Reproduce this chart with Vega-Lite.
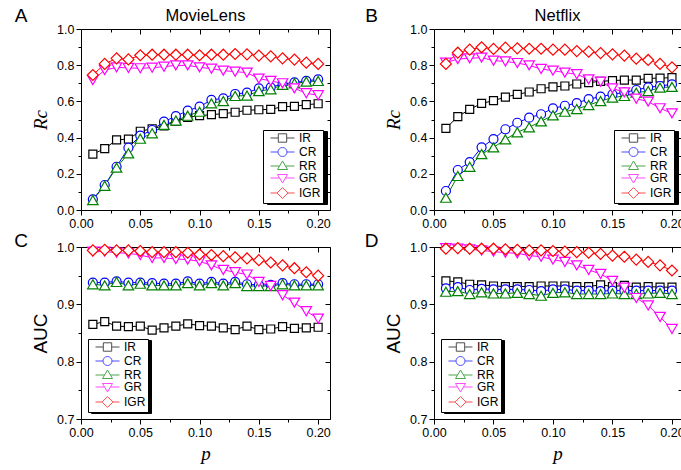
{
"$schema": "https://vega.github.io/schema/vega-lite/v6.json",
"padding": {"left": 13, "top": 6, "right": 0, "bottom": 0},
"datasets": {
"A": [
{"p":0.01,"m":"IR","v":0.309},{"p":0.02,"m":"IR","v":0.339},{"p":0.03,"m":"IR","v":0.387},{"p":0.04,"m":"IR","v":0.392},{"p":0.05,"m":"IR","v":0.435},{"p":0.06,"m":"IR","v":0.449},{"p":0.07,"m":"IR","v":0.465},{"p":0.08,"m":"IR","v":0.49},{"p":0.09,"m":"IR","v":0.512},{"p":0.10,"m":"IR","v":0.521},{"p":0.11,"m":"IR","v":0.527},{"p":0.12,"m":"IR","v":0.532},{"p":0.13,"m":"IR","v":0.540},{"p":0.14,"m":"IR","v":0.551},{"p":0.15,"m":"IR","v":0.554},{"p":0.16,"m":"IR","v":0.556},{"p":0.17,"m":"IR","v":0.571},{"p":0.18,"m":"IR","v":0.573},{"p":0.19,"m":"IR","v":0.582},{"p":0.20,"m":"IR","v":0.587},
{"p":0.01,"m":"CR","v":0.059},{"p":0.02,"m":"CR","v":0.138},{"p":0.03,"m":"CR","v":0.239},{"p":0.04,"m":"CR","v":0.344},{"p":0.05,"m":"CR","v":0.411},{"p":0.06,"m":"CR","v":0.442},{"p":0.07,"m":"CR","v":0.488},{"p":0.08,"m":"CR","v":0.519},{"p":0.09,"m":"CR","v":0.549},{"p":0.10,"m":"CR","v":0.571},{"p":0.11,"m":"CR","v":0.608},{"p":0.12,"m":"CR","v":0.617},{"p":0.13,"m":"CR","v":0.641},{"p":0.14,"m":"CR","v":0.648},{"p":0.15,"m":"CR","v":0.672},{"p":0.16,"m":"CR","v":0.678},{"p":0.17,"m":"CR","v":0.696},{"p":0.18,"m":"CR","v":0.705},{"p":0.19,"m":"CR","v":0.713},{"p":0.20,"m":"CR","v":0.722},
{"p":0.01,"m":"RR","v":0.055},{"p":0.02,"m":"RR","v":0.134},{"p":0.03,"m":"RR","v":0.234},{"p":0.04,"m":"RR","v":0.313},{"p":0.05,"m":"RR","v":0.394},{"p":0.06,"m":"RR","v":0.424},{"p":0.07,"m":"RR","v":0.470},{"p":0.08,"m":"RR","v":0.494},{"p":0.09,"m":"RR","v":0.521},{"p":0.10,"m":"RR","v":0.543},{"p":0.11,"m":"RR","v":0.589},{"p":0.12,"m":"RR","v":0.602},{"p":0.13,"m":"RR","v":0.630},{"p":0.14,"m":"RR","v":0.632},{"p":0.15,"m":"RR","v":0.657},{"p":0.16,"m":"RR","v":0.667},{"p":0.17,"m":"RR","v":0.691},{"p":0.18,"m":"RR","v":0.700},{"p":0.19,"m":"RR","v":0.709},{"p":0.20,"m":"RR","v":0.713},
{"p":0.01,"m":"GR","v":0.718},{"p":0.02,"m":"GR","v":0.773},{"p":0.03,"m":"GR","v":0.788},{"p":0.04,"m":"GR","v":0.785},{"p":0.05,"m":"GR","v":0.783},{"p":0.06,"m":"GR","v":0.786},{"p":0.07,"m":"GR","v":0.792},{"p":0.08,"m":"GR","v":0.799},{"p":0.09,"m":"GR","v":0.799},{"p":0.10,"m":"GR","v":0.788},{"p":0.11,"m":"GR","v":0.781},{"p":0.12,"m":"GR","v":0.770},{"p":0.13,"m":"GR","v":0.764},{"p":0.14,"m":"GR","v":0.759},{"p":0.15,"m":"GR","v":0.726},{"p":0.16,"m":"GR","v":0.713},{"p":0.17,"m":"GR","v":0.700},{"p":0.18,"m":"GR","v":0.672},{"p":0.19,"m":"GR","v":0.645},{"p":0.20,"m":"GR","v":0.634},
{"p":0.01,"m":"IGR","v":0.746},{"p":0.02,"m":"IGR","v":0.807},{"p":0.03,"m":"IGR","v":0.838},{"p":0.04,"m":"IGR","v":0.832},{"p":0.05,"m":"IGR","v":0.855},{"p":0.06,"m":"IGR","v":0.858},{"p":0.07,"m":"IGR","v":0.858},{"p":0.08,"m":"IGR","v":0.858},{"p":0.09,"m":"IGR","v":0.858},{"p":0.10,"m":"IGR","v":0.855},{"p":0.11,"m":"IGR","v":0.858},{"p":0.12,"m":"IGR","v":0.858},{"p":0.13,"m":"IGR","v":0.862},{"p":0.14,"m":"IGR","v":0.860},{"p":0.15,"m":"IGR","v":0.853},{"p":0.16,"m":"IGR","v":0.849},{"p":0.17,"m":"IGR","v":0.838},{"p":0.18,"m":"IGR","v":0.831},{"p":0.19,"m":"IGR","v":0.814},{"p":0.20,"m":"IGR","v":0.807}
],
"B": [
{"p":0.01,"m":"IR","v":0.451},{"p":0.02,"m":"IR","v":0.516},{"p":0.03,"m":"IR","v":0.556},{"p":0.04,"m":"IR","v":0.589},{"p":0.05,"m":"IR","v":0.604},{"p":0.06,"m":"IR","v":0.624},{"p":0.07,"m":"IR","v":0.639},{"p":0.08,"m":"IR","v":0.652},{"p":0.09,"m":"IR","v":0.670},{"p":0.10,"m":"IR","v":0.680},{"p":0.11,"m":"IR","v":0.685},{"p":0.12,"m":"IR","v":0.696},{"p":0.13,"m":"IR","v":0.704},{"p":0.14,"m":"IR","v":0.711},{"p":0.15,"m":"IR","v":0.715},{"p":0.16,"m":"IR","v":0.718},{"p":0.17,"m":"IR","v":0.718},{"p":0.18,"m":"IR","v":0.727},{"p":0.19,"m":"IR","v":0.729},{"p":0.20,"m":"IR","v":0.731},
{"p":0.01,"m":"CR","v":0.105},{"p":0.02,"m":"CR","v":0.221},{"p":0.03,"m":"CR","v":0.265},{"p":0.04,"m":"CR","v":0.346},{"p":0.05,"m":"CR","v":0.392},{"p":0.06,"m":"CR","v":0.446},{"p":0.07,"m":"CR","v":0.482},{"p":0.08,"m":"CR","v":0.510},{"p":0.09,"m":"CR","v":0.529},{"p":0.10,"m":"CR","v":0.562},{"p":0.11,"m":"CR","v":0.576},{"p":0.12,"m":"CR","v":0.591},{"p":0.13,"m":"CR","v":0.613},{"p":0.14,"m":"CR","v":0.626},{"p":0.15,"m":"CR","v":0.639},{"p":0.16,"m":"CR","v":0.650},{"p":0.17,"m":"CR","v":0.663},{"p":0.18,"m":"CR","v":0.678},{"p":0.19,"m":"CR","v":0.685},{"p":0.20,"m":"CR","v":0.694},
{"p":0.01,"m":"RR","v":0.068},{"p":0.02,"m":"RR","v":0.188},{"p":0.03,"m":"RR","v":0.239},{"p":0.04,"m":"RR","v":0.309},{"p":0.05,"m":"RR","v":0.346},{"p":0.06,"m":"RR","v":0.390},{"p":0.07,"m":"RR","v":0.429},{"p":0.08,"m":"RR","v":0.457},{"p":0.09,"m":"RR","v":0.490},{"p":0.10,"m":"RR","v":0.523},{"p":0.11,"m":"RR","v":0.543},{"p":0.12,"m":"RR","v":0.558},{"p":0.13,"m":"RR","v":0.580},{"p":0.14,"m":"RR","v":0.602},{"p":0.15,"m":"RR","v":0.621},{"p":0.16,"m":"RR","v":0.630},{"p":0.17,"m":"RR","v":0.648},{"p":0.18,"m":"RR","v":0.657},{"p":0.19,"m":"RR","v":0.676},{"p":0.20,"m":"RR","v":0.680},
{"p":0.01,"m":"GR","v":0.814},{"p":0.02,"m":"GR","v":0.834},{"p":0.03,"m":"GR","v":0.838},{"p":0.04,"m":"GR","v":0.842},{"p":0.05,"m":"GR","v":0.825},{"p":0.06,"m":"GR","v":0.821},{"p":0.07,"m":"GR","v":0.812},{"p":0.08,"m":"GR","v":0.799},{"p":0.09,"m":"GR","v":0.779},{"p":0.10,"m":"GR","v":0.770},{"p":0.11,"m":"GR","v":0.759},{"p":0.12,"m":"GR","v":0.750},{"p":0.13,"m":"GR","v":0.722},{"p":0.14,"m":"GR","v":0.709},{"p":0.15,"m":"GR","v":0.672},{"p":0.16,"m":"GR","v":0.650},{"p":0.17,"m":"GR","v":0.615},{"p":0.18,"m":"GR","v":0.599},{"p":0.19,"m":"GR","v":0.562},{"p":0.20,"m":"GR","v":0.534},
{"p":0.01,"m":"IGR","v":0.807},{"p":0.02,"m":"IGR","v":0.869},{"p":0.03,"m":"IGR","v":0.886},{"p":0.04,"m":"IGR","v":0.899},{"p":0.05,"m":"IGR","v":0.890},{"p":0.06,"m":"IGR","v":0.897},{"p":0.07,"m":"IGR","v":0.893},{"p":0.08,"m":"IGR","v":0.891},{"p":0.09,"m":"IGR","v":0.891},{"p":0.10,"m":"IGR","v":0.886},{"p":0.11,"m":"IGR","v":0.886},{"p":0.12,"m":"IGR","v":0.878},{"p":0.13,"m":"IGR","v":0.875},{"p":0.14,"m":"IGR","v":0.867},{"p":0.15,"m":"IGR","v":0.860},{"p":0.16,"m":"IGR","v":0.853},{"p":0.17,"m":"IGR","v":0.836},{"p":0.18,"m":"IGR","v":0.829},{"p":0.19,"m":"IGR","v":0.807},{"p":0.20,"m":"IGR","v":0.788}
],
"C": [
{"p":0.01,"m":"IR","v":0.865},{"p":0.02,"m":"IR","v":0.870},{"p":0.03,"m":"IR","v":0.862},{"p":0.04,"m":"IR","v":0.861},{"p":0.05,"m":"IR","v":0.862},{"p":0.06,"m":"IR","v":0.855},{"p":0.07,"m":"IR","v":0.859},{"p":0.08,"m":"IR","v":0.862},{"p":0.09,"m":"IR","v":0.866},{"p":0.10,"m":"IR","v":0.863},{"p":0.11,"m":"IR","v":0.862},{"p":0.12,"m":"IR","v":0.859},{"p":0.13,"m":"IR","v":0.856},{"p":0.14,"m":"IR","v":0.862},{"p":0.15,"m":"IR","v":0.856},{"p":0.16,"m":"IR","v":0.857},{"p":0.17,"m":"IR","v":0.861},{"p":0.18,"m":"IR","v":0.858},{"p":0.19,"m":"IR","v":0.859},{"p":0.20,"m":"IR","v":0.860},
{"p":0.01,"m":"CR","v":0.938},{"p":0.02,"m":"CR","v":0.938},{"p":0.03,"m":"CR","v":0.940},{"p":0.04,"m":"CR","v":0.938},{"p":0.05,"m":"CR","v":0.938},{"p":0.06,"m":"CR","v":0.937},{"p":0.07,"m":"CR","v":0.936},{"p":0.08,"m":"CR","v":0.936},{"p":0.09,"m":"CR","v":0.940},{"p":0.10,"m":"CR","v":0.936},{"p":0.11,"m":"CR","v":0.939},{"p":0.12,"m":"CR","v":0.936},{"p":0.13,"m":"CR","v":0.939},{"p":0.14,"m":"CR","v":0.935},{"p":0.15,"m":"CR","v":0.934},{"p":0.16,"m":"CR","v":0.934},{"p":0.17,"m":"CR","v":0.937},{"p":0.18,"m":"CR","v":0.935},{"p":0.19,"m":"CR","v":0.935},{"p":0.20,"m":"CR","v":0.935},
{"p":0.01,"m":"RR","v":0.935},{"p":0.02,"m":"RR","v":0.933},{"p":0.03,"m":"RR","v":0.939},{"p":0.04,"m":"RR","v":0.933},{"p":0.05,"m":"RR","v":0.936},{"p":0.06,"m":"RR","v":0.933},{"p":0.07,"m":"RR","v":0.933},{"p":0.08,"m":"RR","v":0.933},{"p":0.09,"m":"RR","v":0.937},{"p":0.10,"m":"RR","v":0.933},{"p":0.11,"m":"RR","v":0.937},{"p":0.12,"m":"RR","v":0.933},{"p":0.13,"m":"RR","v":0.937},{"p":0.14,"m":"RR","v":0.932},{"p":0.15,"m":"RR","v":0.932},{"p":0.16,"m":"RR","v":0.932},{"p":0.17,"m":"RR","v":0.935},{"p":0.18,"m":"RR","v":0.933},{"p":0.19,"m":"RR","v":0.933},{"p":0.20,"m":"RR","v":0.933},
{"p":0.01,"m":"GR","v":0.992},{"p":0.02,"m":"GR","v":0.992},{"p":0.03,"m":"GR","v":0.990},{"p":0.04,"m":"GR","v":0.989},{"p":0.05,"m":"GR","v":0.986},{"p":0.06,"m":"GR","v":0.981},{"p":0.07,"m":"GR","v":0.981},{"p":0.08,"m":"GR","v":0.979},{"p":0.09,"m":"GR","v":0.978},{"p":0.10,"m":"GR","v":0.975},{"p":0.11,"m":"GR","v":0.968},{"p":0.12,"m":"GR","v":0.960},{"p":0.13,"m":"GR","v":0.956},{"p":0.14,"m":"GR","v":0.952},{"p":0.15,"m":"GR","v":0.939},{"p":0.16,"m":"GR","v":0.932},{"p":0.17,"m":"GR","v":0.916},{"p":0.18,"m":"GR","v":0.903},{"p":0.19,"m":"GR","v":0.888},{"p":0.20,"m":"GR","v":0.875},
{"p":0.01,"m":"IGR","v":0.994},{"p":0.02,"m":"IGR","v":0.995},{"p":0.03,"m":"IGR","v":0.994},{"p":0.04,"m":"IGR","v":0.994},{"p":0.05,"m":"IGR","v":0.993},{"p":0.06,"m":"IGR","v":0.991},{"p":0.07,"m":"IGR","v":0.991},{"p":0.08,"m":"IGR","v":0.991},{"p":0.09,"m":"IGR","v":0.990},{"p":0.10,"m":"IGR","v":0.987},{"p":0.11,"m":"IGR","v":0.986},{"p":0.12,"m":"IGR","v":0.984},{"p":0.13,"m":"IGR","v":0.982},{"p":0.14,"m":"IGR","v":0.980},{"p":0.15,"m":"IGR","v":0.977},{"p":0.16,"m":"IGR","v":0.973},{"p":0.17,"m":"IGR","v":0.968},{"p":0.18,"m":"IGR","v":0.963},{"p":0.19,"m":"IGR","v":0.956},{"p":0.20,"m":"IGR","v":0.950}
],
"D": [
{"p":0.01,"m":"IR","v":0.941},{"p":0.02,"m":"IR","v":0.939},{"p":0.03,"m":"IR","v":0.935},{"p":0.04,"m":"IR","v":0.934},{"p":0.05,"m":"IR","v":0.932},{"p":0.06,"m":"IR","v":0.931},{"p":0.07,"m":"IR","v":0.931},{"p":0.08,"m":"IR","v":0.931},{"p":0.09,"m":"IR","v":0.932},{"p":0.10,"m":"IR","v":0.932},{"p":0.11,"m":"IR","v":0.932},{"p":0.12,"m":"IR","v":0.931},{"p":0.13,"m":"IR","v":0.931},{"p":0.14,"m":"IR","v":0.934},{"p":0.15,"m":"IR","v":0.931},{"p":0.16,"m":"IR","v":0.933},{"p":0.17,"m":"IR","v":0.930},{"p":0.18,"m":"IR","v":0.931},{"p":0.19,"m":"IR","v":0.930},{"p":0.20,"m":"IR","v":0.930},
{"p":0.01,"m":"CR","v":0.928},{"p":0.02,"m":"CR","v":0.930},{"p":0.03,"m":"CR","v":0.925},{"p":0.04,"m":"CR","v":0.927},{"p":0.05,"m":"CR","v":0.926},{"p":0.06,"m":"CR","v":0.926},{"p":0.07,"m":"CR","v":0.926},{"p":0.08,"m":"CR","v":0.925},{"p":0.09,"m":"CR","v":0.923},{"p":0.10,"m":"CR","v":0.926},{"p":0.11,"m":"CR","v":0.926},{"p":0.12,"m":"CR","v":0.924},{"p":0.13,"m":"CR","v":0.924},{"p":0.14,"m":"CR","v":0.923},{"p":0.15,"m":"CR","v":0.924},{"p":0.16,"m":"CR","v":0.924},{"p":0.17,"m":"CR","v":0.924},{"p":0.18,"m":"CR","v":0.924},{"p":0.19,"m":"CR","v":0.924},{"p":0.20,"m":"CR","v":0.924},
{"p":0.01,"m":"RR","v":0.922},{"p":0.02,"m":"RR","v":0.923},{"p":0.03,"m":"RR","v":0.918},{"p":0.04,"m":"RR","v":0.921},{"p":0.05,"m":"RR","v":0.919},{"p":0.06,"m":"RR","v":0.919},{"p":0.07,"m":"RR","v":0.920},{"p":0.08,"m":"RR","v":0.918},{"p":0.09,"m":"RR","v":0.915},{"p":0.10,"m":"RR","v":0.920},{"p":0.11,"m":"RR","v":0.921},{"p":0.12,"m":"RR","v":0.918},{"p":0.13,"m":"RR","v":0.918},{"p":0.14,"m":"RR","v":0.918},{"p":0.15,"m":"RR","v":0.919},{"p":0.16,"m":"RR","v":0.918},{"p":0.17,"m":"RR","v":0.918},{"p":0.18,"m":"RR","v":0.919},{"p":0.19,"m":"RR","v":0.920},{"p":0.20,"m":"RR","v":0.918},
{"p":0.01,"m":"GR","v":0.998},{"p":0.02,"m":"GR","v":0.997},{"p":0.03,"m":"GR","v":0.996},{"p":0.04,"m":"GR","v":0.994},{"p":0.05,"m":"GR","v":0.992},{"p":0.06,"m":"GR","v":0.990},{"p":0.07,"m":"GR","v":0.989},{"p":0.08,"m":"GR","v":0.985},{"p":0.09,"m":"GR","v":0.983},{"p":0.10,"m":"GR","v":0.978},{"p":0.11,"m":"GR","v":0.974},{"p":0.12,"m":"GR","v":0.968},{"p":0.13,"m":"GR","v":0.960},{"p":0.14,"m":"GR","v":0.953},{"p":0.15,"m":"GR","v":0.941},{"p":0.16,"m":"GR","v":0.929},{"p":0.17,"m":"GR","v":0.911},{"p":0.18,"m":"GR","v":0.898},{"p":0.19,"m":"GR","v":0.878},{"p":0.20,"m":"GR","v":0.857},
{"p":0.01,"m":"IGR","v":0.997},{"p":0.02,"m":"IGR","v":0.998},{"p":0.03,"m":"IGR","v":0.997},{"p":0.04,"m":"IGR","v":0.997},{"p":0.05,"m":"IGR","v":0.997},{"p":0.06,"m":"IGR","v":0.996},{"p":0.07,"m":"IGR","v":0.995},{"p":0.08,"m":"IGR","v":0.994},{"p":0.09,"m":"IGR","v":0.994},{"p":0.10,"m":"IGR","v":0.993},{"p":0.11,"m":"IGR","v":0.992},{"p":0.12,"m":"IGR","v":0.991},{"p":0.13,"m":"IGR","v":0.990},{"p":0.14,"m":"IGR","v":0.988},{"p":0.15,"m":"IGR","v":0.985},{"p":0.16,"m":"IGR","v":0.983},{"p":0.17,"m":"IGR","v":0.978},{"p":0.18,"m":"IGR","v":0.974},{"p":0.19,"m":"IGR","v":0.968},{"p":0.20,"m":"IGR","v":0.959}
]
},
"columns": 2,
"bounds": "flush",
"spacing": {"row": 37, "column": 104},
"resolve": {"scale": {"color": "independent", "shape": "independent", "opacity": "independent"}, "legend": {"color": "independent", "shape": "independent", "opacity": "independent"}},
"concat": [
{
"width": 249, "height": 181,
"data": {"name": "A"},
"title": {"text": "MovieLens", "fontSize": 16.5, "font": "Liberation Sans", "fontWeight": "normal", "color": "black", "offset": -18},
"layer": [
{"mark": {"type": "line", "strokeWidth": 1},
"encoding": {
"x": {"field": "p", "type": "quantitative", "scale": {"domain": [0, 0.21], "nice": false, "zero": false}, "axis": {"orient": "bottom", "values": [0,0.025,0.05,0.075,0.1,0.125,0.15,0.175,0.2], "labelExpr": "round(datum.value*1000)%50===0 ? format(datum.value,'.2f') : ''", "tickSize": {"condition": {"test": "round(datum.value*1000)%50===0", "value": 5}, "value": 3}, "title": null, "labelFlush": false, "labelOverlap": false}},
"y": {"field": "v", "type": "quantitative", "scale": {"domain": [0, 1], "nice": false, "zero": false}, "axis": {"orient": "left", "values": [0,0.1,0.2,0.3,0.4,0.5,0.6,0.7,0.8,0.9,1.0], "labelExpr": "round(datum.value*10)%2===0 ? format(datum.value,'.1f') : ''", "tickSize": {"condition": {"test": "round(datum.value*10)%2===0", "value": 5}, "value": 3}, "title": "Rc", "titleFont": "Liberation Serif", "titleFontStyle": "italic", "titleFontSize": 19, "titlePadding": 6, "labelOverlap": false, "labelFlush": false}},
"color": {"field": "m", "type": "nominal", "scale": {"domain": ["IR","CR","RR","GR","IGR"], "range": ["#000000","#0000FF","#008000","#FF00FF","#FF0000"]}, "legend": null}
}},
{"transform": [{"filter": "datum.m==='IR'"}], "mark": {"type": "point", "shape": "square", "size": 64, "filled": false, "fill": "white", "fillOpacity": 1, "opacity": 1, "strokeWidth": 1.2},
"encoding": {
"x": {"field": "p", "type": "quantitative", "axis": {"orient": "top", "values": [0,0.025,0.05,0.075,0.1,0.125,0.15,0.175,0.2], "labels": false, "tickSize": {"condition": {"test": "round(datum.value*1000)%50===0", "value": -5}, "value": -3}, "title": "A", "titleX": -60.5, "titleY": -13.5, "titleAngle": 0, "titleAlign": "center", "titleBaseline": "middle", "titleFontSize": 19, "titleFont": "Liberation Sans"}},
"y": {"field": "v", "type": "quantitative", "axis": {"orient": "right", "values": [0,0.1,0.2,0.3,0.4,0.5,0.6,0.7,0.8,0.9,1.0], "labels": false, "tickSize": {"condition": {"test": "round(datum.value*10)%2===0", "value": -5}, "value": -3}, "title": null}},
"color": {"field": "m", "type": "nominal", "scale": {"domain": ["IR","CR","RR","GR","IGR"], "range": ["#000000","#0000FF","#008000","#FF00FF","#FF0000"]}, "legend": null}
}},
{"transform": [{"filter": "datum.m==='CR'"}], "mark": {"type": "point", "shape": "circle", "size": 81, "filled": false, "fill": "white", "fillOpacity": 1, "opacity": 1, "strokeWidth": 1.2},
"encoding": {"x": {"field": "p", "type": "quantitative", "axis": null}, "y": {"field": "v", "type": "quantitative", "axis": null}, "color": {"field": "m", "type": "nominal", "scale": {"domain": ["IR","CR","RR","GR","IGR"], "range": ["#000000","#0000FF","#008000","#FF00FF","#FF0000"]}, "legend": null}}},
{"transform": [{"filter": "datum.m==='RR'"}], "mark": {"type": "point", "shape": "triangle-up", "size": 110, "filled": false, "fill": "white", "fillOpacity": 1, "opacity": 1, "strokeWidth": 1.2},
"encoding": {"x": {"field": "p", "type": "quantitative", "axis": null}, "y": {"field": "v", "type": "quantitative", "axis": null}, "color": {"field": "m", "type": "nominal", "scale": {"domain": ["IR","CR","RR","GR","IGR"], "range": ["#000000","#0000FF","#008000","#FF00FF","#FF0000"]}, "legend": null}}},
{"transform": [{"filter": "datum.m==='GR'"}], "mark": {"type": "point", "shape": "triangle-down", "size": 110, "filled": false, "fill": "white", "fillOpacity": 1, "opacity": 1, "strokeWidth": 1.2},
"encoding": {"x": {"field": "p", "type": "quantitative", "axis": null}, "y": {"field": "v", "type": "quantitative", "axis": null}, "color": {"field": "m", "type": "nominal", "scale": {"domain": ["IR","CR","RR","GR","IGR"], "range": ["#000000","#0000FF","#008000","#FF00FF","#FF0000"]}, "legend": null}}},
{"transform": [{"filter": "datum.m==='IGR'"}], "mark": {"type": "point", "shape": "diamond", "size": 121, "filled": false, "fill": "white", "fillOpacity": 1, "opacity": 1, "strokeWidth": 1.2},
"encoding": {"x": {"field": "p", "type": "quantitative", "axis": null}, "y": {"field": "v", "type": "quantitative", "axis": null}, "color": {"field": "m", "type": "nominal", "scale": {"domain": ["IR","CR","RR","GR","IGR"], "range": ["#000000","#0000FF","#008000","#FF00FF","#FF0000"]}, "legend": null}}},
{"transform": [{"filter": "datum.m==='none'"}], "mark": {"type": "point", "filled": false, "strokeWidth": 1},
"encoding": {"x": {"field": "p", "type": "quantitative", "axis": null}, "y": {"field": "v", "type": "quantitative", "axis": null},
"color": {"field": "m", "type": "nominal", "scale": {"domain": ["IR","CR","RR","GR","IGR"], "range": ["#000000","#0000FF","#008000","#FF00FF","#FF0000"]}, "legend": {"orient": "bottom-right", "offset": 7, "title": null, "zindex": 2}},
"shape": {"field": "m", "type": "nominal", "scale": {"domain": ["IR","CR","RR","GR","IGR"], "range": ["M-2.4,0H-0.84M0.84,0H2.4M-0.84,-0.84H0.84V0.84H-0.84Z","M-2.4,0H-0.9M0.9,0H2.4M0.9,0A0.9,0.9,0,1,1,-0.9,0A0.9,0.9,0,1,1,0.9,0Z","M-2.4,0H-0.59M0.59,0H2.4M0,-1L1,0.7L-1,0.7Z","M-2.4,0H-0.59M0.59,0H2.4M0,1L1,-0.7L-1,-0.7Z","M-2.4,0H-1.08M1.08,0H2.4M0,-1.08L1.08,0L0,1.08L-1.08,0Z"]}, "legend": {"orient": "bottom-right", "offset": 7, "title": null, "zindex": 2}},
"opacity": {"field": "m", "type": "nominal", "scale": {"domain": ["IR","CR","RR","GR","IGR"], "range": [1,1,1,1,1]}, "legend": {"orient": "none", "legendX": 186, "legendY": 102, "title": null, "zindex": 1, "fillColor": "black", "strokeColor": "black", "labelColor": "black", "symbolFillColor": "black", "symbolStrokeColor": "black"}}
}}
],
"resolve": {"axis": {"x": "independent", "y": "independent"}, "scale": {"color": "independent", "shape": "independent"}}
},
{
"width": 247, "height": 181,
"data": {"name": "B"},
"title": {"text": "Netflix", "fontSize": 16.5, "font": "Liberation Sans", "fontWeight": "normal", "color": "black", "offset": -18},
"layer": [
{"mark": {"type": "line", "strokeWidth": 1},
"encoding": {
"x": {"field": "p", "type": "quantitative", "scale": {"domain": [0, 0.2076], "nice": false, "zero": false}, "axis": {"orient": "bottom", "values": [0,0.025,0.05,0.075,0.1,0.125,0.15,0.175,0.2], "labelExpr": "round(datum.value*1000)%50===0 ? format(datum.value,'.2f') : ''", "tickSize": {"condition": {"test": "round(datum.value*1000)%50===0", "value": 5}, "value": 3}, "title": null, "labelFlush": false, "labelOverlap": false}},
"y": {"field": "v", "type": "quantitative", "scale": {"domain": [0, 1], "nice": false, "zero": false}, "axis": {"orient": "left", "values": [0,0.1,0.2,0.3,0.4,0.5,0.6,0.7,0.8,0.9,1.0], "labelExpr": "round(datum.value*10)%2===0 ? format(datum.value,'.1f') : ''", "tickSize": {"condition": {"test": "round(datum.value*10)%2===0", "value": 5}, "value": 3}, "title": "Rc", "titleFont": "Liberation Serif", "titleFontStyle": "italic", "titleFontSize": 19, "titlePadding": 6, "labelOverlap": false, "labelFlush": false}},
"color": {"field": "m", "type": "nominal", "scale": {"domain": ["IR","CR","RR","GR","IGR"], "range": ["#000000","#0000FF","#008000","#FF00FF","#FF0000"]}, "legend": null}
}},
{"transform": [{"filter": "datum.m==='IR'"}], "mark": {"type": "point", "shape": "square", "size": 64, "filled": false, "fill": "white", "fillOpacity": 1, "opacity": 1, "strokeWidth": 1.2},
"encoding": {
"x": {"field": "p", "type": "quantitative", "axis": {"orient": "top", "values": [0,0.025,0.05,0.075,0.1,0.125,0.15,0.175,0.2], "labels": false, "tickSize": {"condition": {"test": "round(datum.value*1000)%50===0", "value": -5}, "value": -3}, "title": "B", "titleX": -63, "titleY": -13.5, "titleAngle": 0, "titleAlign": "center", "titleBaseline": "middle", "titleFontSize": 19, "titleFont": "Liberation Sans"}},
"y": {"field": "v", "type": "quantitative", "axis": {"orient": "right", "domain": false, "values": [0,0.1,0.2,0.3,0.4,0.5,0.6,0.7,0.8,0.9,1.0], "labels": false, "tickSize": {"condition": {"test": "round(datum.value*10)%2===0", "value": -5}, "value": -3}, "title": null}},
"color": {"field": "m", "type": "nominal", "scale": {"domain": ["IR","CR","RR","GR","IGR"], "range": ["#000000","#0000FF","#008000","#FF00FF","#FF0000"]}, "legend": null}
}},
{"transform": [{"filter": "datum.m==='CR'"}], "mark": {"type": "point", "shape": "circle", "size": 81, "filled": false, "fill": "white", "fillOpacity": 1, "opacity": 1, "strokeWidth": 1.2},
"encoding": {"x": {"field": "p", "type": "quantitative", "axis": null}, "y": {"field": "v", "type": "quantitative", "axis": null}, "color": {"field": "m", "type": "nominal", "scale": {"domain": ["IR","CR","RR","GR","IGR"], "range": ["#000000","#0000FF","#008000","#FF00FF","#FF0000"]}, "legend": null}}},
{"transform": [{"filter": "datum.m==='RR'"}], "mark": {"type": "point", "shape": "triangle-up", "size": 110, "filled": false, "fill": "white", "fillOpacity": 1, "opacity": 1, "strokeWidth": 1.2},
"encoding": {"x": {"field": "p", "type": "quantitative", "axis": null}, "y": {"field": "v", "type": "quantitative", "axis": null}, "color": {"field": "m", "type": "nominal", "scale": {"domain": ["IR","CR","RR","GR","IGR"], "range": ["#000000","#0000FF","#008000","#FF00FF","#FF0000"]}, "legend": null}}},
{"transform": [{"filter": "datum.m==='GR'"}], "mark": {"type": "point", "shape": "triangle-down", "size": 110, "filled": false, "fill": "white", "fillOpacity": 1, "opacity": 1, "strokeWidth": 1.2},
"encoding": {"x": {"field": "p", "type": "quantitative", "axis": null}, "y": {"field": "v", "type": "quantitative", "axis": null}, "color": {"field": "m", "type": "nominal", "scale": {"domain": ["IR","CR","RR","GR","IGR"], "range": ["#000000","#0000FF","#008000","#FF00FF","#FF0000"]}, "legend": null}}},
{"transform": [{"filter": "datum.m==='IGR'"}], "mark": {"type": "point", "shape": "diamond", "size": 121, "filled": false, "fill": "white", "fillOpacity": 1, "opacity": 1, "strokeWidth": 1.2},
"encoding": {"x": {"field": "p", "type": "quantitative", "axis": null}, "y": {"field": "v", "type": "quantitative", "axis": null}, "color": {"field": "m", "type": "nominal", "scale": {"domain": ["IR","CR","RR","GR","IGR"], "range": ["#000000","#0000FF","#008000","#FF00FF","#FF0000"]}, "legend": null}}},
{"transform": [{"filter": "datum.m==='none'"}], "mark": {"type": "point", "filled": false, "strokeWidth": 1},
"encoding": {"x": {"field": "p", "type": "quantitative", "axis": null}, "y": {"field": "v", "type": "quantitative", "axis": null},
"color": {"field": "m", "type": "nominal", "scale": {"domain": ["IR","CR","RR","GR","IGR"], "range": ["#000000","#0000FF","#008000","#FF00FF","#FF0000"]}, "legend": {"orient": "bottom-right", "offset": 7, "title": null, "zindex": 2}},
"shape": {"field": "m", "type": "nominal", "scale": {"domain": ["IR","CR","RR","GR","IGR"], "range": ["M-2.4,0H-0.84M0.84,0H2.4M-0.84,-0.84H0.84V0.84H-0.84Z","M-2.4,0H-0.9M0.9,0H2.4M0.9,0A0.9,0.9,0,1,1,-0.9,0A0.9,0.9,0,1,1,0.9,0Z","M-2.4,0H-0.59M0.59,0H2.4M0,-1L1,0.7L-1,0.7Z","M-2.4,0H-0.59M0.59,0H2.4M0,1L1,-0.7L-1,-0.7Z","M-2.4,0H-1.08M1.08,0H2.4M0,-1.08L1.08,0L0,1.08L-1.08,0Z"]}, "legend": {"orient": "bottom-right", "offset": 7, "title": null, "zindex": 2}},
"opacity": {"field": "m", "type": "nominal", "scale": {"domain": ["IR","CR","RR","GR","IGR"], "range": [1,1,1,1,1]}, "legend": {"orient": "none", "legendX": 184, "legendY": 102, "title": null, "zindex": 1, "fillColor": "black", "strokeColor": "black", "labelColor": "black", "symbolFillColor": "black", "symbolStrokeColor": "black"}}
}}
],
"resolve": {"axis": {"x": "independent", "y": "independent"}, "scale": {"color": "independent", "shape": "independent"}}
},
{
"width": 249, "height": 172,
"data": {"name": "C"},
"layer": [
{"mark": {"type": "line", "strokeWidth": 1},
"encoding": {
"x": {"field": "p", "type": "quantitative", "scale": {"domain": [0, 0.21], "nice": false, "zero": false}, "axis": {"orient": "bottom", "values": [0,0.025,0.05,0.075,0.1,0.125,0.15,0.175,0.2], "labelExpr": "round(datum.value*1000)%50===0 ? format(datum.value,'.2f') : ''", "tickSize": {"condition": {"test": "round(datum.value*1000)%50===0", "value": 5}, "value": 3}, "title": "p", "titleFont": "Liberation Serif", "titleFontStyle": "italic", "titleFontSize": 19, "titlePadding": 6, "labelFlush": false, "labelOverlap": false}},
"y": {"field": "v", "type": "quantitative", "scale": {"domain": [0.7, 1], "nice": false, "zero": false}, "axis": {"orient": "left", "values": [0.7,0.75,0.8,0.85,0.9,0.95,1.0], "labelExpr": "round(datum.value*100)%10===0 ? format(datum.value,'.1f') : ''", "tickSize": {"condition": {"test": "round(datum.value*100)%10===0", "value": 5}, "value": 3}, "title": "AUC", "titleFont": "Liberation Sans", "titleFontSize": 19, "titlePadding": 6, "labelOverlap": false, "labelFlush": false}},
"color": {"field": "m", "type": "nominal", "scale": {"domain": ["IR","CR","RR","GR","IGR"], "range": ["#000000","#0000FF","#008000","#FF00FF","#FF0000"]}, "legend": null}
}},
{"transform": [{"filter": "datum.m==='IR'"}], "mark": {"type": "point", "shape": "square", "size": 64, "filled": false, "fill": "white", "fillOpacity": 1, "opacity": 1, "strokeWidth": 1.2},
"encoding": {
"x": {"field": "p", "type": "quantitative", "axis": {"orient": "top", "values": [0,0.025,0.05,0.075,0.1,0.125,0.15,0.175,0.2], "labels": false, "tickSize": {"condition": {"test": "round(datum.value*1000)%50===0", "value": -5}, "value": -3}, "title": "C", "titleX": -60.5, "titleY": -7, "titleAngle": 0, "titleAlign": "center", "titleBaseline": "middle", "titleFontSize": 19, "titleFont": "Liberation Sans"}},
"y": {"field": "v", "type": "quantitative", "axis": {"orient": "right", "values": [0.7,0.75,0.8,0.85,0.9,0.95,1.0], "labels": false, "tickSize": {"condition": {"test": "round(datum.value*100)%10===0", "value": -5}, "value": -3}, "title": null}},
"color": {"field": "m", "type": "nominal", "scale": {"domain": ["IR","CR","RR","GR","IGR"], "range": ["#000000","#0000FF","#008000","#FF00FF","#FF0000"]}, "legend": null}
}},
{"transform": [{"filter": "datum.m==='CR'"}], "mark": {"type": "point", "shape": "circle", "size": 81, "filled": false, "fill": "white", "fillOpacity": 1, "opacity": 1, "strokeWidth": 1.2},
"encoding": {"x": {"field": "p", "type": "quantitative", "axis": null}, "y": {"field": "v", "type": "quantitative", "axis": null}, "color": {"field": "m", "type": "nominal", "scale": {"domain": ["IR","CR","RR","GR","IGR"], "range": ["#000000","#0000FF","#008000","#FF00FF","#FF0000"]}, "legend": null}}},
{"transform": [{"filter": "datum.m==='RR'"}], "mark": {"type": "point", "shape": "triangle-up", "size": 110, "filled": false, "fill": "white", "fillOpacity": 1, "opacity": 1, "strokeWidth": 1.2},
"encoding": {"x": {"field": "p", "type": "quantitative", "axis": null}, "y": {"field": "v", "type": "quantitative", "axis": null}, "color": {"field": "m", "type": "nominal", "scale": {"domain": ["IR","CR","RR","GR","IGR"], "range": ["#000000","#0000FF","#008000","#FF00FF","#FF0000"]}, "legend": null}}},
{"transform": [{"filter": "datum.m==='GR'"}], "mark": {"type": "point", "shape": "triangle-down", "size": 110, "filled": false, "fill": "white", "fillOpacity": 1, "opacity": 1, "strokeWidth": 1.2},
"encoding": {"x": {"field": "p", "type": "quantitative", "axis": null}, "y": {"field": "v", "type": "quantitative", "axis": null}, "color": {"field": "m", "type": "nominal", "scale": {"domain": ["IR","CR","RR","GR","IGR"], "range": ["#000000","#0000FF","#008000","#FF00FF","#FF0000"]}, "legend": null}}},
{"transform": [{"filter": "datum.m==='IGR'"}], "mark": {"type": "point", "shape": "diamond", "size": 121, "filled": false, "fill": "white", "fillOpacity": 1, "opacity": 1, "strokeWidth": 1.2},
"encoding": {"x": {"field": "p", "type": "quantitative", "axis": null}, "y": {"field": "v", "type": "quantitative", "axis": null}, "color": {"field": "m", "type": "nominal", "scale": {"domain": ["IR","CR","RR","GR","IGR"], "range": ["#000000","#0000FF","#008000","#FF00FF","#FF0000"]}, "legend": null}}},
{"transform": [{"filter": "datum.m==='none'"}], "mark": {"type": "point", "filled": false, "strokeWidth": 1},
"encoding": {"x": {"field": "p", "type": "quantitative", "axis": null}, "y": {"field": "v", "type": "quantitative", "axis": null},
"color": {"field": "m", "type": "nominal", "scale": {"domain": ["IR","CR","RR","GR","IGR"], "range": ["#000000","#0000FF","#008000","#FF00FF","#FF0000"]}, "legend": {"orient": "bottom-left", "offset": 7, "title": null, "zindex": 2}},
"shape": {"field": "m", "type": "nominal", "scale": {"domain": ["IR","CR","RR","GR","IGR"], "range": ["M-2.4,0H-0.84M0.84,0H2.4M-0.84,-0.84H0.84V0.84H-0.84Z","M-2.4,0H-0.9M0.9,0H2.4M0.9,0A0.9,0.9,0,1,1,-0.9,0A0.9,0.9,0,1,1,0.9,0Z","M-2.4,0H-0.59M0.59,0H2.4M0,-1L1,0.7L-1,0.7Z","M-2.4,0H-0.59M0.59,0H2.4M0,1L1,-0.7L-1,-0.7Z","M-2.4,0H-1.08M1.08,0H2.4M0,-1.08L1.08,0L0,1.08L-1.08,0Z"]}, "legend": {"orient": "bottom-left", "offset": 7, "title": null, "zindex": 2}},
"opacity": {"field": "m", "type": "nominal", "scale": {"domain": ["IR","CR","RR","GR","IGR"], "range": [1,1,1,1,1]}, "legend": {"orient": "none", "legendX": 10, "legendY": 93, "title": null, "zindex": 1, "fillColor": "black", "strokeColor": "black", "labelColor": "black", "symbolFillColor": "black", "symbolStrokeColor": "black"}}
}}
],
"resolve": {"axis": {"x": "independent", "y": "independent"}, "scale": {"color": "independent", "shape": "independent"}}
},
{
"width": 247, "height": 172,
"data": {"name": "D"},
"layer": [
{"mark": {"type": "line", "strokeWidth": 1},
"encoding": {
"x": {"field": "p", "type": "quantitative", "scale": {"domain": [0, 0.2076], "nice": false, "zero": false}, "axis": {"orient": "bottom", "values": [0,0.025,0.05,0.075,0.1,0.125,0.15,0.175,0.2], "labelExpr": "round(datum.value*1000)%50===0 ? format(datum.value,'.2f') : ''", "tickSize": {"condition": {"test": "round(datum.value*1000)%50===0", "value": 5}, "value": 3}, "title": "p", "titleFont": "Liberation Serif", "titleFontStyle": "italic", "titleFontSize": 19, "titlePadding": 6, "labelFlush": false, "labelOverlap": false}},
"y": {"field": "v", "type": "quantitative", "scale": {"domain": [0.7, 1], "nice": false, "zero": false}, "axis": {"orient": "left", "values": [0.7,0.75,0.8,0.85,0.9,0.95,1.0], "labelExpr": "round(datum.value*100)%10===0 ? format(datum.value,'.1f') : ''", "tickSize": {"condition": {"test": "round(datum.value*100)%10===0", "value": 5}, "value": 3}, "title": "AUC", "titleFont": "Liberation Sans", "titleFontSize": 19, "titlePadding": 6, "labelOverlap": false, "labelFlush": false}},
"color": {"field": "m", "type": "nominal", "scale": {"domain": ["IR","CR","RR","GR","IGR"], "range": ["#000000","#0000FF","#008000","#FF00FF","#FF0000"]}, "legend": null}
}},
{"transform": [{"filter": "datum.m==='IR'"}], "mark": {"type": "point", "shape": "square", "size": 64, "filled": false, "fill": "white", "fillOpacity": 1, "opacity": 1, "strokeWidth": 1.2},
"encoding": {
"x": {"field": "p", "type": "quantitative", "axis": {"orient": "top", "values": [0,0.025,0.05,0.075,0.1,0.125,0.15,0.175,0.2], "labels": false, "tickSize": {"condition": {"test": "round(datum.value*1000)%50===0", "value": -5}, "value": -3}, "title": "D", "titleX": -63, "titleY": -7, "titleAngle": 0, "titleAlign": "center", "titleBaseline": "middle", "titleFontSize": 19, "titleFont": "Liberation Sans"}},
"y": {"field": "v", "type": "quantitative", "axis": {"orient": "right", "domain": false, "values": [0.7,0.75,0.8,0.85,0.9,0.95,1.0], "labels": false, "tickSize": {"condition": {"test": "round(datum.value*100)%10===0", "value": -5}, "value": -3}, "title": null}},
"color": {"field": "m", "type": "nominal", "scale": {"domain": ["IR","CR","RR","GR","IGR"], "range": ["#000000","#0000FF","#008000","#FF00FF","#FF0000"]}, "legend": null}
}},
{"transform": [{"filter": "datum.m==='CR'"}], "mark": {"type": "point", "shape": "circle", "size": 81, "filled": false, "fill": "white", "fillOpacity": 1, "opacity": 1, "strokeWidth": 1.2},
"encoding": {"x": {"field": "p", "type": "quantitative", "axis": null}, "y": {"field": "v", "type": "quantitative", "axis": null}, "color": {"field": "m", "type": "nominal", "scale": {"domain": ["IR","CR","RR","GR","IGR"], "range": ["#000000","#0000FF","#008000","#FF00FF","#FF0000"]}, "legend": null}}},
{"transform": [{"filter": "datum.m==='RR'"}], "mark": {"type": "point", "shape": "triangle-up", "size": 110, "filled": false, "fill": "white", "fillOpacity": 1, "opacity": 1, "strokeWidth": 1.2},
"encoding": {"x": {"field": "p", "type": "quantitative", "axis": null}, "y": {"field": "v", "type": "quantitative", "axis": null}, "color": {"field": "m", "type": "nominal", "scale": {"domain": ["IR","CR","RR","GR","IGR"], "range": ["#000000","#0000FF","#008000","#FF00FF","#FF0000"]}, "legend": null}}},
{"transform": [{"filter": "datum.m==='GR'"}], "mark": {"type": "point", "shape": "triangle-down", "size": 110, "filled": false, "fill": "white", "fillOpacity": 1, "opacity": 1, "strokeWidth": 1.2},
"encoding": {"x": {"field": "p", "type": "quantitative", "axis": null}, "y": {"field": "v", "type": "quantitative", "axis": null}, "color": {"field": "m", "type": "nominal", "scale": {"domain": ["IR","CR","RR","GR","IGR"], "range": ["#000000","#0000FF","#008000","#FF00FF","#FF0000"]}, "legend": null}}},
{"transform": [{"filter": "datum.m==='IGR'"}], "mark": {"type": "point", "shape": "diamond", "size": 121, "filled": false, "fill": "white", "fillOpacity": 1, "opacity": 1, "strokeWidth": 1.2},
"encoding": {"x": {"field": "p", "type": "quantitative", "axis": null}, "y": {"field": "v", "type": "quantitative", "axis": null}, "color": {"field": "m", "type": "nominal", "scale": {"domain": ["IR","CR","RR","GR","IGR"], "range": ["#000000","#0000FF","#008000","#FF00FF","#FF0000"]}, "legend": null}}},
{"transform": [{"filter": "datum.m==='none'"}], "mark": {"type": "point", "filled": false, "strokeWidth": 1},
"encoding": {"x": {"field": "p", "type": "quantitative", "axis": null}, "y": {"field": "v", "type": "quantitative", "axis": null},
"color": {"field": "m", "type": "nominal", "scale": {"domain": ["IR","CR","RR","GR","IGR"], "range": ["#000000","#0000FF","#008000","#FF00FF","#FF0000"]}, "legend": {"orient": "bottom-left", "offset": 7, "title": null, "zindex": 2}},
"shape": {"field": "m", "type": "nominal", "scale": {"domain": ["IR","CR","RR","GR","IGR"], "range": ["M-2.4,0H-0.84M0.84,0H2.4M-0.84,-0.84H0.84V0.84H-0.84Z","M-2.4,0H-0.9M0.9,0H2.4M0.9,0A0.9,0.9,0,1,1,-0.9,0A0.9,0.9,0,1,1,0.9,0Z","M-2.4,0H-0.59M0.59,0H2.4M0,-1L1,0.7L-1,0.7Z","M-2.4,0H-0.59M0.59,0H2.4M0,1L1,-0.7L-1,-0.7Z","M-2.4,0H-1.08M1.08,0H2.4M0,-1.08L1.08,0L0,1.08L-1.08,0Z"]}, "legend": {"orient": "bottom-left", "offset": 7, "title": null, "zindex": 2}},
"opacity": {"field": "m", "type": "nominal", "scale": {"domain": ["IR","CR","RR","GR","IGR"], "range": [1,1,1,1,1]}, "legend": {"orient": "none", "legendX": 10, "legendY": 93, "title": null, "zindex": 1, "fillColor": "black", "strokeColor": "black", "labelColor": "black", "symbolFillColor": "black", "symbolStrokeColor": "black"}}
}}
],
"resolve": {"axis": {"x": "independent", "y": "independent"}, "scale": {"color": "independent", "shape": "independent"}}
}
],
"config": {
"view": {"stroke": null},
"font": "Liberation Sans",
"axis": {"grid": false, "domainColor": "black", "tickColor": "black", "labelColor": "black", "labelFont": "Liberation Sans", "labelFontSize": 12.5, "titleColor": "black", "titleFontWeight": "normal", "tickWidth": 1, "domainWidth": 1, "labelPadding": 2},
"legend": {"strokeColor": "black", "strokeWidth": 1, "fillColor": "white", "padding": 2, "labelFont": "Liberation Sans", "labelFontSize": 12, "labelColor": "black", "symbolSize": 100, "symbolStrokeWidth": 1, "symbolOffset": 11.5, "rowPadding": 0, "labelOffset": 10.5}
}
}
